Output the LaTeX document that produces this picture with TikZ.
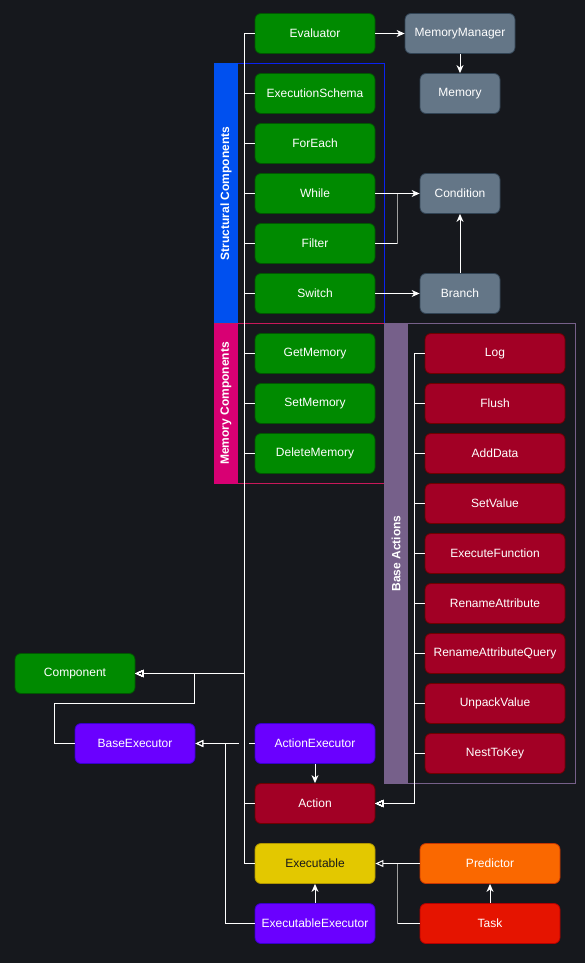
\documentclass[tikz,border=0pt]{standalone}
\usepackage{fontspec}
\setmainfont{Liberation Sans}
\usetikzlibrary{arrows.meta}
\definecolor{bg}{HTML}{16181D}
\definecolor{cGreen}{HTML}{008A00}\definecolor{cGreenS}{HTML}{005700}
\definecolor{cGray}{HTML}{647687}\definecolor{cGrayS}{HTML}{314354}
\definecolor{cRed}{HTML}{A20025}\definecolor{cRedS}{HTML}{6F0000}
\definecolor{cPurp}{HTML}{6A00FF}\definecolor{cPurpS}{HTML}{3700CC}
\definecolor{cYel}{HTML}{E3C800}\definecolor{cYelS}{HTML}{B09500}
\definecolor{cOra}{HTML}{FA6800}\definecolor{cOraS}{HTML}{C73500}
\definecolor{cTask}{HTML}{E51400}\definecolor{cTaskS}{HTML}{B20000}
\definecolor{gBlue}{HTML}{0050EF}\definecolor{gBlueS}{HTML}{0A22F0}
\definecolor{gMag}{HTML}{D80073}\definecolor{gMagS}{HTML}{C8185A}
\definecolor{gVio}{HTML}{76608A}\definecolor{gVioS}{HTML}{76608A}
\definecolor{vgray}{HTML}{A0A0A0}
\newcommand{\fs}{\fontsize{12}{14}\selectfont}
\tikzset{
  box/.style={rounded corners=6pt, minimum height=40pt, text=white, font=\fs, line width=0.8pt, inner sep=0pt},
  gbox/.style={box, fill=cGreen, draw=cGreenS, minimum width=120pt},
  graybox/.style={box, fill=cGray, draw=cGrayS},
  rbox/.style={box, fill=cRed, draw=cRedS, minimum width=140pt},
  pbox/.style={box, fill=cPurp, draw=cPurpS, minimum width=120pt},
  wire/.style={draw=white, line width=1pt},
  inh/.style={wire, -{Triangle[open, length=8pt, width=7pt, line width=1pt]}},
  assoc/.style={wire, -{Stealth[length=8pt, width=7pt, inset=2.5pt]}},
  gtitle/.style={text=white, font=\fs\bfseries, rotate=90},
}
\begin{document}
\begin{tikzpicture}[x=1pt, y=-1pt]
\fill[bg] (0,0) rectangle (585,963);
\useasboundingbox (0,0) rectangle (585,963);
% groups
\draw[gBlueS, line width=1pt] (214,63.5) rectangle (384.5,323.5);
\fill[gBlue] (214,63.5) rectangle (238,323.5);
\node[gtitle] (gs) at (226,193.5) {Structural Components};
\draw[gMagS, line width=1pt] (214,323.5) rectangle (384.5,483.5);
\fill[gMag] (214,323.5) rectangle (238,483.5);
\node[gtitle] (gm) at (226,403.5) {Memory Components};
\draw[gVioS, line width=1pt] (384.5,323.5) rectangle (575,783.5);
\fill[gVio] (384.5,323.5) rectangle (408,783.5);
\node[gtitle] (gb) at (396,553.5) {Base Actions};

% nodes
\node[gbox] (eval) at (315,33.5) {Evaluator};
\node[graybox, minimum width=110pt] (mm) at (460,33.5) {MemoryManager};
\node[graybox, minimum width=80pt] (mem) at (460,93.5) {Memory};
\node[gbox] (es) at (315,93.5) {ExecutionSchema};
\node[gbox] (fe) at (315,143.5) {ForEach};
\node[gbox] (wh) at (315,193.5) {While};
\node[gbox] (fi) at (315,243.5) {Filter};
\node[gbox] (sw) at (315,293.5) {Switch};
\node[graybox, minimum width=80pt] (cond) at (460,193.5) {Condition};
\node[graybox, minimum width=80pt] (br) at (460,293.5) {Branch};
\node[gbox] (gmem) at (315,353.5) {GetMemory};
\node[gbox] (smem) at (315,403.5) {SetMemory};
\node[gbox] (dmem) at (315,453.5) {DeleteMemory};
\node[rbox] (a1) at (495,353.5) {Log};
\node[rbox] (a2) at (495,403.5) {Flush};
\node[rbox] (a3) at (495,453.5) {AddData};
\node[rbox] (a4) at (495,503.5) {SetValue};
\node[rbox] (a5) at (495,553.5) {ExecuteFunction};
\node[rbox] (a6) at (495,603.5) {RenameAttribute};
\node[rbox] (a7) at (495,653.5) {RenameAttributeQuery};
\node[rbox] (a8) at (495,703.5) {UnpackValue};
\node[rbox] (a9) at (495,753.5) {NestToKey};
\node[gbox] (comp) at (75,673.5) {Component};
\node[pbox] (bexe) at (135,743.5) {BaseExecutor};
\node[pbox] (aexe) at (315,743.5) {ActionExecutor};
\node[rbox, minimum width=120pt] (act) at (315,803.5) {Action};
\node[box, fill=cYel, draw=cYelS, text=black!90, minimum width=120pt] (exe) at (315,863.5) {Executable};
\node[pbox] (eexe) at (315,923.5) {ExecutableExecutor};
\node[box, fill=cOra, draw=cOraS, minimum width=140pt] (pred) at (490,863.5) {Predictor};
\node[box, fill=cTask, draw=cTaskS, minimum width=140pt] (task) at (490,923.5) {Task};

% inheritance to Component
\foreach \n in {eval,es,fe,wh,fi,sw,gmem,smem,dmem,act,exe}
  \draw[inh] (\n.west) -- ++(-10,0) |- (comp.east);
\draw[inh] (bexe.west) -- (54,743.5) -- (54,703.5) -- (194.5,703.5) |- (comp.east);
% executors
\draw[wire] (aexe.west) -- ++(-6,0);
\coordinate (jump) at (238.5,743.5);
\draw[inh] (jump) -- (bexe.east);
\draw[inh] (eexe.west) -- (225,923.5) |- (bexe.east);
\draw[assoc] (aexe.south) -- (act.north);
% base actions to Action
\foreach \n in {a1,a2,a3,a4,a5,a6,a7,a8,a9}
  \draw[inh] (\n.west) -- ++(-10,0) |- (act.east);
% associations
\draw[assoc] (eval.east) -- (mm.west);
\draw[assoc] (mm.south) -- (mem.north);
\draw[assoc] (wh.east) -- (cond.west);
\draw[wire] (fi.east) -- (397.5,243.5);
\draw[wire, draw=vgray] (397.5,243.5) -- (397.5,193.5);
\draw[assoc] (sw.east) -- (br.west);
\draw[assoc] (br.north) -- (cond.south);
% executable
\draw[assoc] (eexe.north) -- (exe.south);
\draw[inh] (pred.west) -- (exe.east);
\draw[wire] (task.west) -- (397.5,923.5);
\draw[wire, draw=vgray] (397.5,923.5) -- (397.5,863.5);
\draw[assoc] (task.north) -- (pred.south);
\end{tikzpicture}
\end{document}
